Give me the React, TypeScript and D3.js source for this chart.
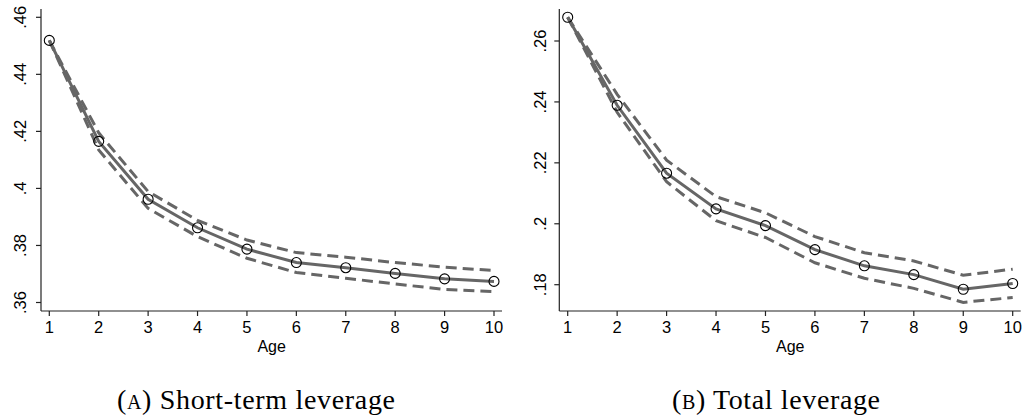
import React from "react";
import * as d3 from "d3";

// Age in years
const ages = [1, 2, 3, 4, 5, 6, 7, 8, 9, 10];

// Short-term leverage: point estimates and 95% bounds
const shortEst = [0.4519, 0.4165, 0.3962, 0.3862, 0.3787, 0.374, 0.3722, 0.3702, 0.3683, 0.3674];
const shortHi = [0.4519, 0.4195, 0.3989, 0.3888, 0.3819, 0.3775, 0.3759, 0.374, 0.3724, 0.3712];
const shortLo = [0.4519, 0.4135, 0.393, 0.3831, 0.3755, 0.3705, 0.3685, 0.3665, 0.3646, 0.3638];

// Total leverage: point estimates and 95% bounds
const totalEst = [0.2678, 0.2389, 0.2166, 0.2049, 0.1994, 0.1915, 0.1862, 0.1833, 0.1785, 0.1804];
const totalHi = [0.2678, 0.2425, 0.2209, 0.2089, 0.2036, 0.1958, 0.1905, 0.1878, 0.1831, 0.1851];
const totalLo = [0.2678, 0.2366, 0.2138, 0.201, 0.1955, 0.1872, 0.1821, 0.1788, 0.1742, 0.1758];

// Tick values and labels
const shortTicks = [0.36, 0.38, 0.4, 0.42, 0.44, 0.46];
const shortTickLabels = [".36", ".38", ".4", ".42", ".44", ".46"];
const totalTicks = [0.18, 0.2, 0.22, 0.24, 0.26];
const totalTickLabels = [".18", ".2", ".22", ".24", ".26"];

const xTitle = "Age";
const captions = [
  { tag: "a", text: "Short-term leverage", width: 278 },
  { tag: "b", text: "Total leverage", width: 208 },
];

const LINE = "#666666";
const SANS = "'Liberation Sans', Arial, Helvetica, sans-serif";
const SERIF = "'Liberation Serif', 'DejaVu Serif', serif";

type PanelProps = {
  axisX: number;
  axisRight: number;
  xRange: [number, number];
  yDomain: [number, number];
  yRange: [number, number];
  est: number[];
  hi: number[];
  lo: number[];
  ticks: number[];
  tickLabels: string[];
  labelX: number;
  caption: { tag: string; text: string; width: number };
  captionX: number;
};

const AXIS_TOP = 9;
const AXIS_Y = 311;

function Panel(p: PanelProps) {
  const x = d3.scaleLinear().domain([1, 10]).range(p.xRange);
  const y = d3.scaleLinear().domain(p.yDomain).range(p.yRange);
  const line = (vals: number[]) =>
    d3
      .line<number>()
      .x((_, i) => x(ages[i]))
      .y((v) => y(v))(vals) as string;
  const cx = (p.xRange[0] + p.xRange[1]) / 2;

  return (
    <g>
      {/* confidence bounds */}
      <path d={line(p.hi)} fill="none" stroke={LINE} strokeWidth={3} strokeDasharray="11 6" />
      <path d={line(p.lo)} fill="none" stroke={LINE} strokeWidth={3} strokeDasharray="11 6" />
      {/* point estimate */}
      <path d={line(p.est)} fill="none" stroke={LINE} strokeWidth={3} />
      {p.est.map((v, i) => (
        <circle key={i} cx={x(ages[i])} cy={y(v)} r={5} fill="none" stroke="#000" strokeWidth={1.1} />
      ))}

      {/* y axis */}
      <line x1={p.axisX} x2={p.axisX} y1={AXIS_TOP} y2={AXIS_Y} stroke="#222" strokeWidth={1.2} />
      {p.ticks.map((t, i) => (
        <g key={t}>
          <line x1={p.axisX - 5} x2={p.axisX} y1={y(t)} y2={y(t)} stroke="#222" strokeWidth={1.2} />
          <text
            transform={`translate(${p.labelX},${y(t)}) rotate(-90)`}
            textAnchor="middle"
            dominantBaseline="central"
            fontFamily={SANS}
            fontSize={16.5}
            fill="#000"
          >
            {p.tickLabels[i]}
          </text>
        </g>
      ))}

      {/* x axis */}
      <line x1={p.axisX} x2={p.axisRight} y1={AXIS_Y} y2={AXIS_Y} stroke="#222" strokeWidth={1.2} />
      {ages.map((a) => (
        <g key={a}>
          <line x1={x(a)} x2={x(a)} y1={AXIS_Y} y2={AXIS_Y + 5} stroke="#222" strokeWidth={1.2} />
          <text x={x(a)} y={332.5} textAnchor="middle" fontFamily={SANS} fontSize={16.5} fill="#000">
            {a}
          </text>
        </g>
      ))}
      <text x={cx} y={351.5} textAnchor="middle" fontFamily={SANS} fontSize={16} fill="#000">
        {xTitle}
      </text>

      {/* caption */}
      <text
        x={p.captionX}
        y={409}
        textAnchor="middle"
        fontFamily={SERIF}
        fontSize={28}
        fill="#000"
        textLength={p.caption.width}
        lengthAdjust="spacing"
      >
        <tspan style={{ fontVariant: "small-caps" }}>({p.caption.tag})</tspan> {p.caption.text}
      </text>
    </g>
  );
}

export default function App() {
  return (
    <svg width={1028} height={419} style={{ position: "absolute", left: 0, top: 0, background: "#fff" }}>
      <rect width={1028} height={419} fill="#fff" />
      <Panel
        axisX={41}
        axisRight={502}
        xRange={[49.3, 494]}
        yDomain={[0.36, 0.46]}
        yRange={[302.5, 17.3]}
        est={shortEst}
        hi={shortHi}
        lo={shortLo}
        ticks={shortTicks}
        tickLabels={shortTickLabels}
        labelX={20}
        caption={captions[0]}
        captionX={256}
      />
      <Panel
        axisX={559.3}
        axisRight={1020.7}
        xRange={[567.7, 1012.7]}
        yDomain={[0.18, 0.26]}
        yRange={[284.7, 41]}
        est={totalEst}
        hi={totalHi}
        lo={totalLo}
        ticks={totalTicks}
        tickLabels={totalTickLabels}
        labelX={540}
        caption={captions[1]}
        captionX={776}
      />
    </svg>
  );
}
